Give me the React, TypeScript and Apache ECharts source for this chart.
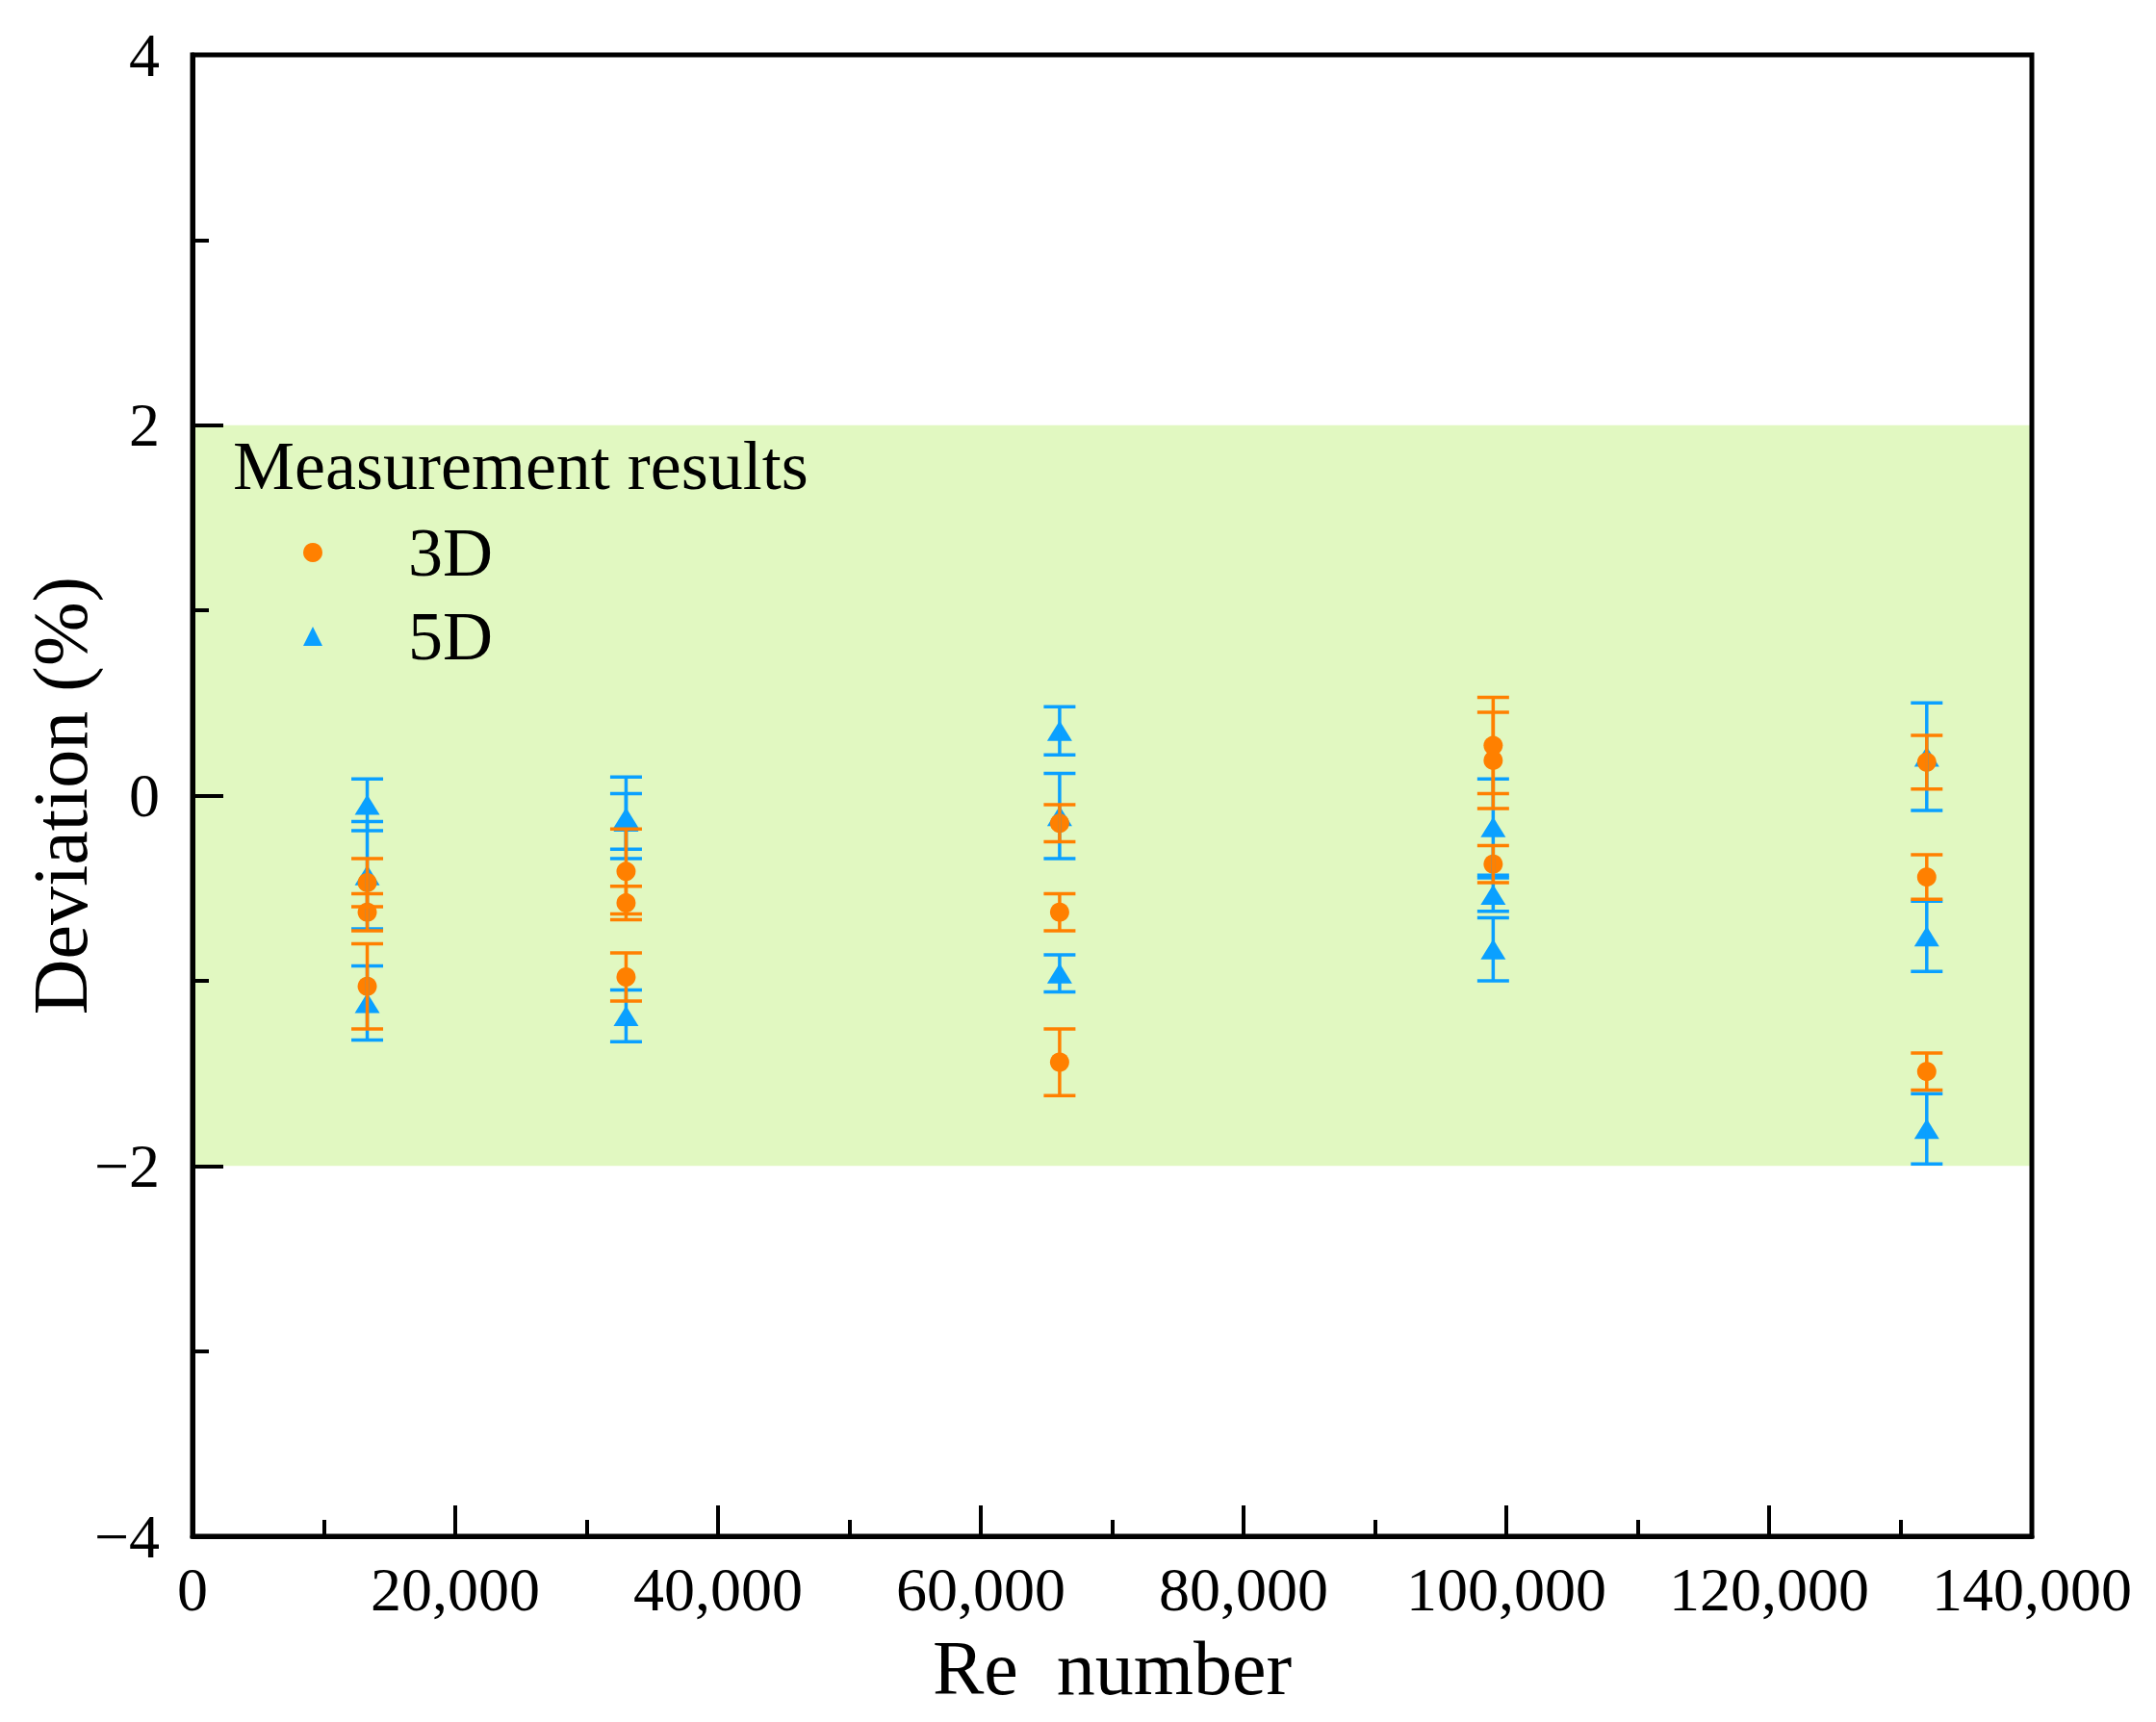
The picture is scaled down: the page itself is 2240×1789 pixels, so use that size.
import React, { useEffect, useRef } from "react";
import * as echarts from "echarts";

// ---- data ----
const reTicks = [0, 20000, 40000, 60000, 80000, 100000, 120000, 140000];
const devTicks = [-4, -2, 0, 2, 4];
const bandX = [0, 140000];
const bandRange = [-2, 2];
const seriesNames = ["3D", "5D"];
const legendTitle = "Measurement results";

// [Re, deviation, error half-width]
const data3D = [
  [13300, -0.47, 0.13],
  [13300, -0.63, 0.1],
  [13300, -1.03, 0.23],
  [33000, -0.41, 0.23],
  [33000, -0.58, 0.09],
  [33000, -0.98, 0.13],
  [66000, -0.15, 0.1],
  [66000, -0.63, 0.1],
  [66000, -1.44, 0.18],
  [99000, 0.27, 0.26],
  [99000, 0.19, 0.26],
  [99000, -0.37, 0.1],
  [132000, 0.18, 0.145],
  [132000, -0.44, 0.12],
  [132000, -1.49, 0.1],
];
const data5D = [
  [13300, -0.05, 0.14],
  [13300, -0.43, 0.29],
  [13300, -1.12, 0.2],
  [33000, -0.12, 0.22],
  [33000, -0.14, 0.15],
  [33000, -1.19, 0.14],
  [66000, 0.35, 0.13],
  [66000, -0.11, 0.23],
  [66000, -0.96, 0.1],
  [99000, -0.17, 0.26],
  [99000, -0.535, 0.09],
  [99000, -0.83, 0.17],
  [132000, 0.21, 0.29],
  [132000, -0.76, 0.19],
  [132000, -1.8, 0.19],
];

const ORANGE = "#ff8000";
const BLUE = "#0aa0ff";
const GREEN = "#e1f8c1";
const FONT = "'Liberation Serif', 'Times New Roman', serif";

function fmtThousands(v: number): string {
  return String(Math.round(v)).replace(/\B(?=(\d{3})+(?!\d))/g, ",");
}
function fmtMinus(v: number): string {
  return v < 0 ? "\u2212" + Math.abs(v) : String(v);
}

function errorBarSeries(name: string, data: number[][], color: string) {
  return {
    type: "custom",
    name: name + " error",
    z: 4,
    silent: true,
    data,
    encode: { x: 0, y: 1 },
    renderItem: (params: any, api: any) => {
      const x = api.value(0);
      const y = api.value(1);
      const e = api.value(2);
      const top = api.coord([x, y + e]);
      const bot = api.coord([x, y - e]);
      const hw = 16.5;
      const st = { stroke: color, lineWidth: 3.5 };
      return {
        type: "group",
        children: [
          { type: "line", shape: { x1: top[0], y1: top[1], x2: bot[0], y2: bot[1] }, style: st },
          { type: "line", shape: { x1: top[0] - hw, y1: top[1], x2: top[0] + hw, y2: top[1] }, style: st },
          { type: "line", shape: { x1: bot[0] - hw, y1: bot[1], x2: bot[0] + hw, y2: bot[1] }, style: st },
        ],
      };
    },
  };
}

export default function App() {
  const ref = useRef<HTMLDivElement>(null);
  useEffect(() => {
    if (!ref.current) return;
    const chart = echarts.init(ref.current, undefined, { renderer: "svg" });
    const axisLine = { show: true, onZero: false, lineStyle: { color: "#000", width: 5 } };
    chart.setOption({
      animation: false,
      backgroundColor: "#fff",
      grid: {
        left: 200,
        top: 57,
        width: 1911,
        height: 1539,
        show: true,
        borderColor: "#000",
        borderWidth: 5,
        backgroundColor: "transparent",
        z: 5,
      },
      xAxis: {
        type: "value",
        min: reTicks[0],
        max: reTicks[reTicks.length - 1],
        interval: reTicks[1] - reTicks[0],
        name: "Re  number",
        nameLocation: "middle",
        nameGap: 97,
        nameMoveOverlap: false,
        nameTextStyle: { fontFamily: FONT, fontSize: 80, color: "#000" },
        axisLine,
        axisTick: { show: true, inside: true, length: 32, lineStyle: { color: "#000", width: 4 } },
        minorTick: { show: true, splitNumber: 2, length: 17, lineStyle: { color: "#000", width: 4 } },
        splitLine: { show: false },
        minorSplitLine: { show: false },
        axisLabel: {
          margin: 23,
          fontFamily: FONT,
          fontSize: 64,
          color: "#000",
          formatter: (v: number) => fmtThousands(v),
        },
      },
      yAxis: {
        type: "value",
        min: devTicks[0],
        max: devTicks[devTicks.length - 1],
        interval: devTicks[1] - devTicks[0],
        name: "Deviation (%)",
        nameLocation: "middle",
        nameRotate: 90,
        nameGap: 97,
        nameMoveOverlap: false,
        nameTextStyle: { fontFamily: FONT, fontSize: 80, color: "#000" },
        axisLine,
        axisTick: { show: true, inside: true, length: 32, lineStyle: { color: "#000", width: 4 } },
        minorTick: { show: true, splitNumber: 2, length: 17, lineStyle: { color: "#000", width: 4 } },
        splitLine: { show: false },
        minorSplitLine: { show: false },
        axisLabel: {
          margin: 34,
          fontFamily: FONT,
          fontSize: 64,
          color: "#000",
          formatter: (v: number) => fmtMinus(v),
        },
      },
      legend: {
        data: [
          { name: seriesNames[0], icon: "circle" },
          { name: seriesNames[1], icon: "triangle" },
        ],
        orient: "vertical",
        left: 315,
        top: 538,
        padding: 0,
        itemWidth: 20,
        itemHeight: 20,
        itemGap: 15,
        selectedMode: false,
        textStyle: {
          fontFamily: FONT,
          fontSize: 72,
          color: "#000",
          padding: [0, 0, 0, 84],
        },
      },
      graphic: {
        elements: [
          {
            type: "text",
            x: 242,
            y: 484,
            z: 100,
            zlevel: 0,
            silent: true,
            style: {
              text: legendTitle,
              fontFamily: FONT,
              fontSize: 72,
              fill: "#000",
              verticalAlign: "middle",
              align: "left",
            },
          },
        ],
      },
      series: [
        {
          type: "custom",
          name: "band",
          z: 0,
          silent: true,
          data: [[bandX[0], bandRange[1], bandX[1], bandRange[0]]],
          encode: { x: [0, 2], y: [1, 3] },
          renderItem: (params: any, api: any) => {
            const p1 = api.coord([api.value(0), api.value(1)]);
            const p2 = api.coord([api.value(2), api.value(3)]);
            return {
              type: "rect",
              shape: { x: p1[0], y: p1[1], width: p2[0] - p1[0], height: p2[1] - p1[1] },
              style: { fill: GREEN },
            };
          },
        },
        {
          type: "scatter",
          name: seriesNames[1],
          symbol: "triangle",
          symbolSize: [26, 21],
          itemStyle: { color: BLUE, opacity: 1 },
          z: 2,
          data: data5D.map((d) => [d[0], d[1]]),
        },
        {
          type: "scatter",
          name: seriesNames[0],
          symbol: "circle",
          symbolSize: 20,
          itemStyle: { color: ORANGE, opacity: 1 },
          z: 3,
          data: data3D.map((d) => [d[0], d[1]]),
        },
        errorBarSeries(seriesNames[1], data5D, BLUE),
        errorBarSeries(seriesNames[0], data3D, ORANGE),
      ],
    });
    return () => chart.dispose();
  }, []);
  return (
    <div
      ref={ref}
      style={{ position: "absolute", left: 0, top: 0, width: 2240, height: 1789 }}
    />
  );
}
